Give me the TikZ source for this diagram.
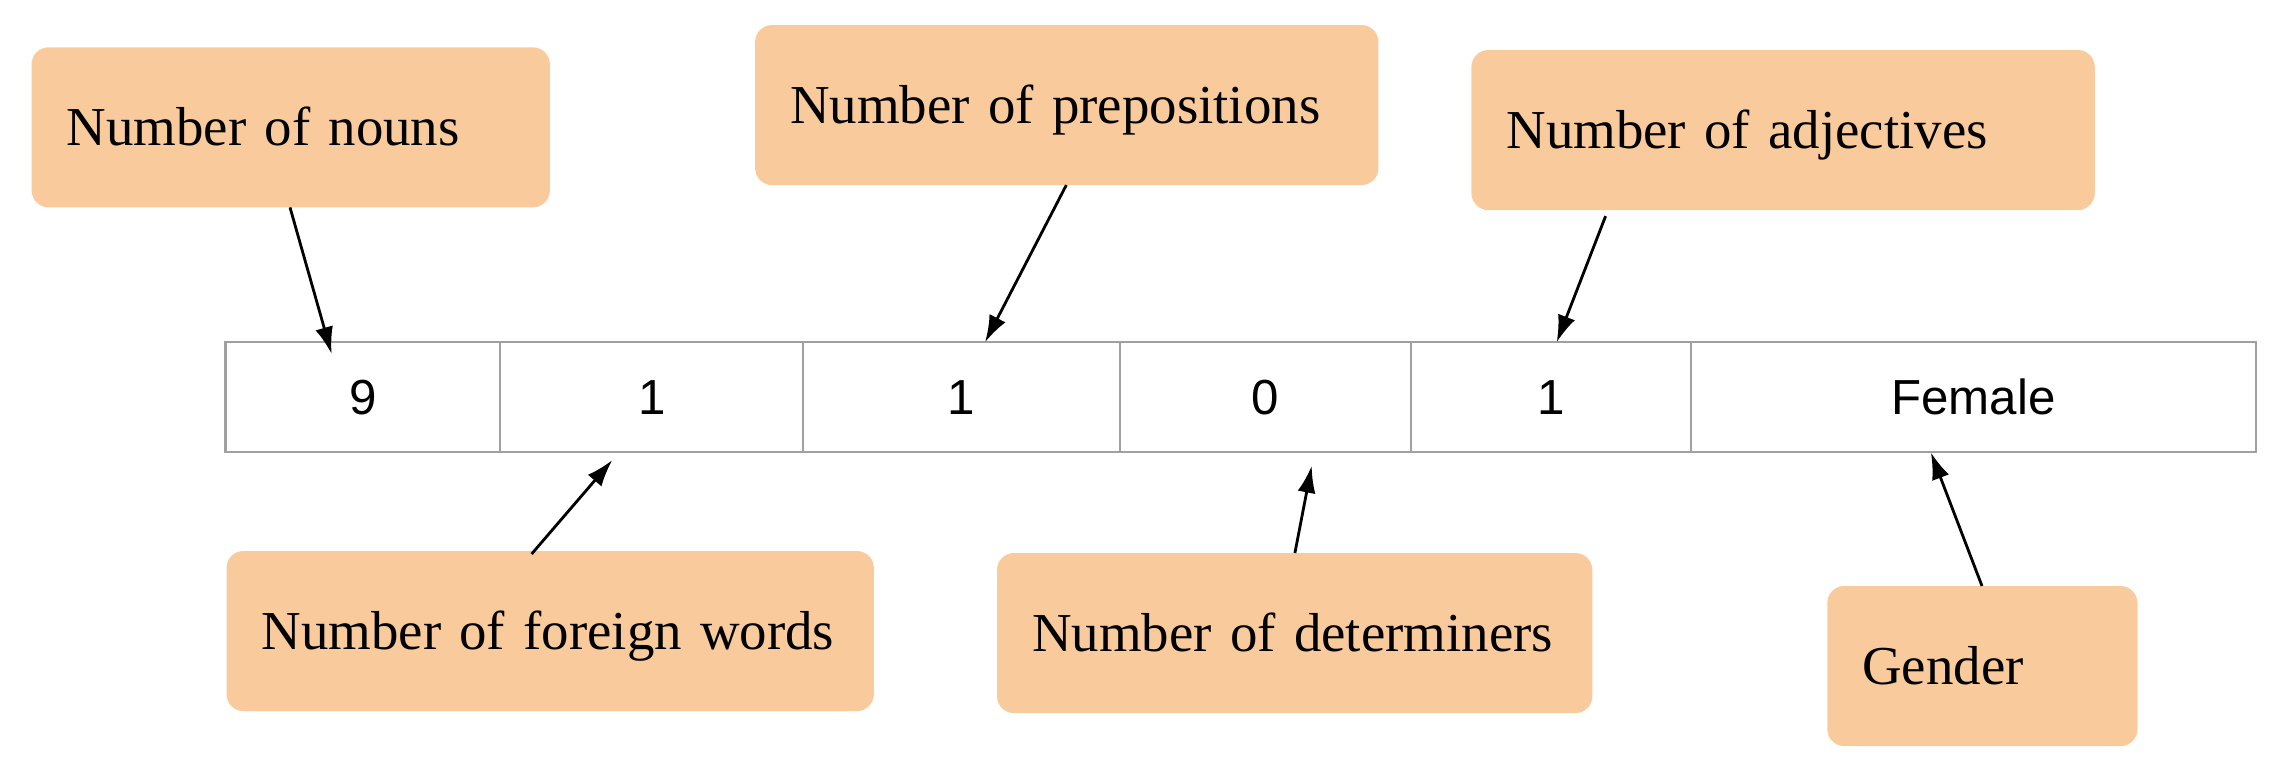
\documentclass[tikz,border=0pt]{standalone}
\usepackage{fontspec}
\setmainfont{Liberation Serif}
\newfontfamily\digitfont{Liberation Sans}
\usetikzlibrary{arrows.meta,calc}
\definecolor{peach}{HTML}{F9CB9C}
\definecolor{tablegray}{HTML}{A0A0A0}
\begin{document}
\begin{tikzpicture}[x=0.01cm,y=-0.01cm,
  lbl/.style={fill=peach, draw=none, rounded corners=0.17cm, anchor=north west,
    minimum height=1.6cm, inner xsep=0.35cm, inner ysep=0pt, outer sep=0pt, align=left,
    font=\fontsize{15.6}{18}\selectfont, text height=0.36cm, text depth=0pt},
  cell/.style={draw=tablegray, line width=0.6pt, minimum height=1.1cm, anchor=west,
    inner sep=0pt, outer sep=0pt, font=\digitfont\fontsize{14}{16}\selectfont,
    text height=0.353cm, text depth=0pt},
  arr/.style={line width=0.8pt, -{Latex[length=2.7mm,width=1.8mm]}}]
\useasboundingbox (0,0) rectangle (2284,778);
% table
\node[cell, minimum width=2.745cm] (c1) at (225.5,397.3) {9};
\node[cell, minimum width=3.03cm] (c2) at (c1.east) {1};
\node[cell, minimum width=3.162cm] (c3) at (c2.east) {1};
\node[cell, minimum width=2.908cm] (c4) at (c3.east) {0};
\node[cell, minimum width=2.80cm] (c5) at (c4.east) {1};
\node[cell, minimum width=5.646cm] (c6) at (c5.east) {Female};
% labels
\node[lbl, minimum width=5.18cm, text width=4.48cm] (nouns) at (31.6,47.3) {\mbox{Number of nouns}};
\node[lbl, minimum width=6.23cm, text width=5.53cm] (preps) at (755.1,25) {\mbox{Number of prepositions}};
\node[lbl, minimum width=6.23cm, text width=5.53cm] (adj) at (1471.4,50) {\mbox{Number of adjectives}};
\node[lbl, minimum width=6.47cm, text width=5.77cm] (foreign) at (226.5,551) {\mbox{Number of foreign words}};
\node[lbl, minimum width=5.95cm, text width=5.25cm] (det) at (997,553) {\mbox{Number of determiners}};
\node[lbl, minimum width=3.10cm, text width=2.40cm] (gender) at (1827.3,586) {\mbox{Gender}};
% connectors
\draw[arr] ($(nouns.south west)+(258.4,0)$) -- ($(c1.north west)+(106.1,11.7)$);
\draw[arr] ($(preps.south west)+(311.2,0)$) -- ($(c3.north west)+(181.7,0)$);
\draw[arr] ($(adj.south west)+(134.2,6)$) -- ($(c5.north west)+(146,0)$);
\draw[arr] ($(foreign.north west)+(305.1,3)$) -- ($(c2.south west)+(112.2,7.7)$);
\draw[arr] ($(det.north west)+(297.9,0)$) -- ($(c4.south west)+(192,13.4)$);
\draw[arr] ($(gender.north west)+(154.7,0)$) -- ($(c6.south west)+(240,0)$);
\end{tikzpicture}
\end{document}
